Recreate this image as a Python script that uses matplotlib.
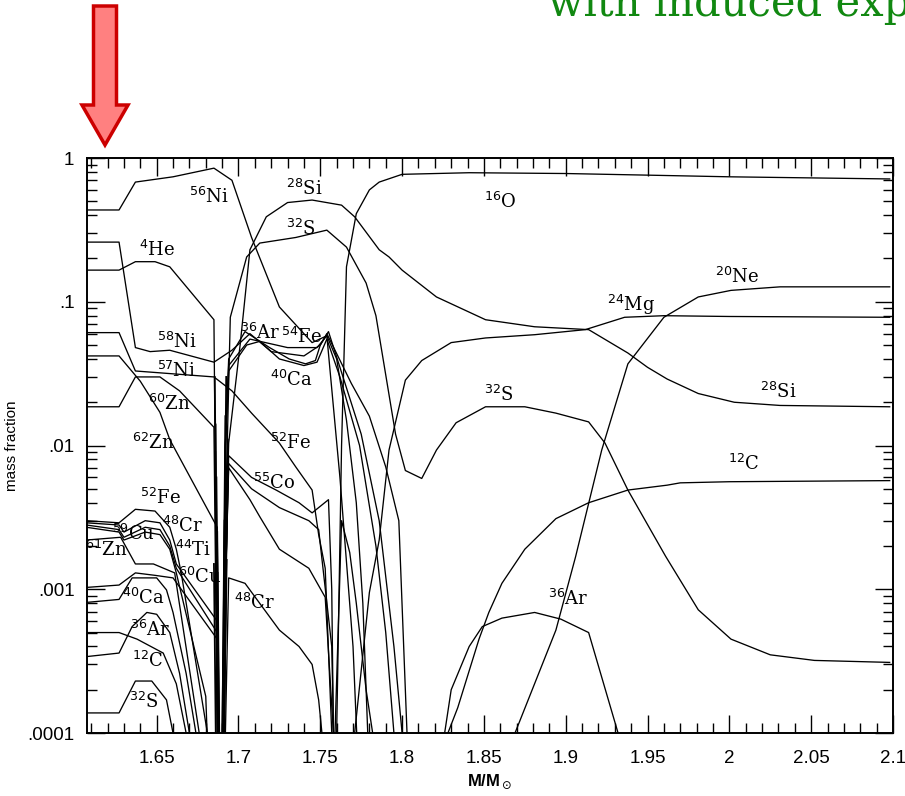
import matplotlib
matplotlib.use("Agg")
import matplotlib.pyplot as plt
from matplotlib.patches import FancyArrow
from matplotlib.ticker import MultipleLocator, LogLocator, NullFormatter

# ---- abundance curves: mass coordinate / mass fraction ----
ni56_x = [1.607, 1.627, 1.637, 1.660, 1.685, 1.696, 1.708, 1.725, 1.745, 1.754, 1.762, 1.770, 1.776]
ni56_y = [0.435, 0.435, 0.68, 0.74, 0.85, 0.70, 0.28, 0.092, 0.052, 0.058, 0.006, 0.0004, 1e-5]

he4_x = [1.607, 1.627, 1.637, 1.649, 1.658, 1.685, 1.688]
he4_y = [0.166, 0.166, 0.19, 0.19, 0.175, 0.075, 1e-5]

ni58_x = [1.607, 1.627, 1.637, 1.646, 1.658, 1.685, 1.696, 1.707, 1.720, 1.740, 1.750, 1.755, 1.762, 1.775, 1.786, 1.795, 1.800, 1.802]
ni58_y = [0.26, 0.26, 0.048, 0.045, 0.046, 0.038, 0.046, 0.060, 0.045, 0.042, 0.050, 0.062, 0.035, 0.012, 0.003, 0.0004, 1e-4, 1e-5]

ni57_x = [1.607, 1.627, 1.637, 1.685, 1.696, 1.708, 1.725, 1.735, 1.745, 1.749, 1.753, 1.757, 1.759]
ni57_y = [0.061, 0.061, 0.033, 0.030, 0.024, 0.0168, 0.0104, 0.0071, 0.0049, 0.0024, 0.0014, 1e-4, 1e-5]

zn62_x = [1.607, 1.627, 1.640, 1.652, 1.658, 1.687, 1.689]
zn62_y = [0.042, 0.042, 0.028, 0.017, 0.011, 0.0027, 1e-5]

zn60_x = [1.607, 1.627, 1.637, 1.652, 1.664, 1.685, 1.688]
zn60_y = [0.0186, 0.0186, 0.030, 0.030, 0.024, 0.0134, 1e-5]

fe52l_x = [1.607, 1.627, 1.637, 1.649, 1.658, 1.662, 1.665, 1.681, 1.684]
fe52l_y = [0.0030, 0.0029, 0.0036, 0.0035, 0.0027, 0.0019, 0.0013, 1e-4, 1e-5]

cr48l_x = [1.607, 1.627, 1.630, 1.643, 1.652, 1.658, 1.662, 1.687, 1.689]
cr48l_y = [0.0029, 0.0028, 0.0025, 0.0030, 0.0029, 0.0022, 0.0015, 0.00060, 1e-5]

cu59_x = [1.607, 1.627, 1.630, 1.643, 1.652, 1.658, 1.662, 1.687, 1.689]
cu59_y = [0.0028, 0.0026, 0.0023, 0.0027, 0.0026, 0.0020, 0.0014, 0.00050, 1e-5]

ti44_x = [1.607, 1.627, 1.630, 1.643, 1.652, 1.658, 1.662, 1.680, 1.684]
ti44_y = [0.0027, 0.0025, 0.0022, 0.0025, 0.0024, 0.0019, 0.0013, 0.00018, 1e-5]

zn61_x = [1.607, 1.628, 1.637, 1.648, 1.661, 1.676, 1.680]
zn61_y = [0.0022, 0.0023, 0.0015, 0.0015, 0.0013, 1e-4, 1e-5]

cu60_x = [1.607, 1.627, 1.637, 1.649, 1.660, 1.687, 1.689]
cu60_y = [0.00103, 0.00107, 0.0013, 0.00125, 0.0012, 0.00045, 1e-5]

ca40l_x = [1.607, 1.627, 1.635, 1.650, 1.656, 1.660, 1.668, 1.674, 1.678]
ca40l_y = [8.1e-4, 8.5e-4, 0.0012, 0.0012, 9.9e-4, 6.9e-4, 2.6e-4, 1e-4, 1e-5]

ar36l_x = [1.607, 1.627, 1.638, 1.654, 1.662, 1.668, 1.671]
ar36l_y = [5.0e-4, 5.0e-4, 4.5e-4, 3.6e-4, 2.2e-4, 1e-4, 1e-5]

c12l_x = [1.607, 1.627, 1.635, 1.644, 1.650, 1.658, 1.664, 1.670, 1.673]
c12l_y = [3.4e-4, 3.6e-4, 5.5e-4, 6.9e-4, 6.7e-4, 5.0e-4, 2.6e-4, 1e-4, 1e-5]

s32l_x = [1.607, 1.627, 1.637, 1.647, 1.656, 1.660, 1.662]
s32l_y = [1.38e-4, 1.38e-4, 2.3e-4, 2.3e-4, 1.7e-4, 1e-4, 1e-5]

si28_x = [1.690, 1.692, 1.694, 1.701, 1.707, 1.717, 1.730, 1.745, 1.763, 1.771, 1.786, 1.792, 1.800,
          1.821, 1.851, 1.881, 1.914, 1.938, 1.950, 1.962, 1.981, 2.003, 2.031, 2.098]
si28_y = [1e-5, 0.0015, 0.0104, 0.05, 0.23, 0.39, 0.49, 0.51, 0.47, 0.39, 0.23, 0.205, 0.166,
          0.108, 0.075, 0.067, 0.064, 0.044, 0.035, 0.029, 0.023, 0.020, 0.019, 0.0186]

s32_x = [1.689, 1.692, 1.695, 1.705, 1.713, 1.735, 1.754, 1.766, 1.778, 1.784, 1.796, 1.802, 1.812,
         1.821, 1.833, 1.851, 1.875, 1.894, 1.914, 1.924, 1.938, 1.961, 1.981, 2.001, 2.025, 2.052, 2.098]
s32_y = [1e-5, 0.003, 0.078, 0.205, 0.256, 0.28, 0.315, 0.24, 0.135, 0.08, 0.012, 0.0067, 0.0059,
         0.0093, 0.0144, 0.0186, 0.0186, 0.0168, 0.0146, 0.0104, 0.0049, 0.0017, 0.00072, 0.00045,
         0.00035, 0.00032, 0.00031]

o16_x = [1.757, 1.760, 1.763, 1.766, 1.772, 1.780, 1.786, 1.800, 1.841, 1.900, 1.950, 2.000, 2.098]
o16_y = [1e-5, 1e-4, 0.010, 0.175, 0.41, 0.60, 0.68, 0.77, 0.79, 0.78, 0.76, 0.74, 0.715]

mg24_x = [1.768, 1.771, 1.780, 1.786, 1.792, 1.802, 1.812, 1.830, 1.851, 1.881, 1.912, 1.936, 1.960, 2.000, 2.098]
mg24_y = [1e-5, 1e-4, 9.5e-4, 0.0022, 0.0093, 0.0285, 0.039, 0.052, 0.056, 0.059, 0.064, 0.078, 0.080, 0.079, 0.078]

ne20_x = [1.867, 1.869, 1.894, 1.906, 1.922, 1.938, 1.960, 1.981, 2.001, 2.031, 2.098]
ne20_y = [1e-5, 1e-4, 5.2e-4, 0.00168, 0.0093, 0.037, 0.078, 0.108, 0.12, 0.127, 0.127]

c12_x = [1.826, 1.828, 1.834, 1.847, 1.853, 1.861, 1.875, 1.894, 1.914, 1.938, 1.962, 1.970, 2.000, 2.098]
c12_y = [1e-5, 1e-4, 1.5e-4, 4.5e-4, 6.9e-4, 0.0011, 0.0019, 0.0031, 0.0040, 0.0049, 0.0053, 0.0055, 0.0056, 0.0057]

ar36_x = [1.823, 1.826, 1.830, 1.841, 1.849, 1.861, 1.881, 1.897, 1.914, 1.932, 1.935]
ar36_y = [1e-5, 1e-4, 2.0e-4, 4.0e-4, 5.5e-4, 6.3e-4, 6.9e-4, 6.2e-4, 5.0e-4, 1e-4, 1e-5]

ar36m_x = [1.689, 1.692, 1.694, 1.704, 1.719, 1.731, 1.741, 1.747, 1.750, 1.754, 1.759, 1.769, 1.780, 1.790, 1.798, 1.803, 1.806]
ar36m_y = [1e-5, 0.01, 0.040, 0.062, 0.048, 0.040, 0.037, 0.039, 0.050, 0.060, 0.046, 0.027, 0.016, 0.0071, 0.003, 1e-4, 1e-5]

fe54_x = [1.690, 1.692, 1.694, 1.707, 1.730, 1.748, 1.754, 1.760, 1.766, 1.772, 1.776, 1.779, 1.781]
fe54_y = [1e-5, 0.01, 0.036, 0.055, 0.048, 0.048, 0.058, 0.040, 0.015, 0.004, 0.0008, 1e-4, 1e-5]

ca40m_x = [1.690, 1.692, 1.694, 1.705, 1.713, 1.725, 1.740, 1.748, 1.754, 1.762, 1.774, 1.784, 1.790, 1.795, 1.797]
ca40m_y = [1e-5, 0.01, 0.033, 0.050, 0.053, 0.040, 0.036, 0.038, 0.055, 0.030, 0.010, 0.002, 0.0005, 1e-4, 1e-5]

co55_x = [1.689, 1.692, 1.694, 1.708, 1.723, 1.737, 1.745, 1.755, 1.757, 1.759]
co55_y = [1e-5, 0.001, 0.0085, 0.006, 0.0049, 0.0040, 0.0034, 0.0042, 0.001, 1e-5]

ti44m_x = [1.689, 1.692, 1.694, 1.708, 1.725, 1.743, 1.749, 1.757, 1.760]
ti44m_y = [1e-5, 0.001, 0.0075, 0.0050, 0.0037, 0.0030, 0.0026, 0.0004, 1e-5]

ni57m_x = [1.689, 1.692, 1.694, 1.707, 1.713, 1.725, 1.743, 1.753, 1.758, 1.760]
ni57m_y = [1e-5, 0.001, 0.0070, 0.0042, 0.0032, 0.0019, 0.0014, 0.00088, 1e-4, 1e-5]

cr48m_x = [1.690, 1.692, 1.694, 1.704, 1.725, 1.737, 1.745, 1.749, 1.751, 1.753]
cr48m_y = [1e-5, 1e-4, 0.0012, 0.0011, 0.00052, 0.00040, 0.00030, 0.00017, 1e-4, 1e-5]

hump_x = [1.757, 1.759, 1.763, 1.768, 1.772, 1.778, 1.782, 1.784]
hump_y = [1e-5, 1e-4, 0.003, 0.0018, 0.0008, 0.0002, 1e-4, 1e-5]

# minor species that only show up as the dark notch at the shell edge near 1.69
notch_left_x = [1.6855, 1.6860, 1.6865, 1.6870, 1.6858, 1.6862, 1.6850, 1.6868]
notch_left_y = [0.030, 0.014, 0.006, 0.0025, 0.009, 0.0035, 0.0015, 0.0008]
notch_low_x = [1.6890, 1.6885, 1.6895, 1.6900, 1.6888, 1.6893, 1.6880, 1.6903]
notch_right_x = [1.6925, 1.6920, 1.6930, 1.6915, 1.6935, 1.6918, 1.6928, 1.6912]
notch_right_y = [0.030, 0.016, 0.007, 0.0030, 0.011, 0.0045, 0.0016, 0.0009]

curves = [
    (ni56_x, ni56_y), (he4_x, he4_y), (ni58_x, ni58_y), (ni57_x, ni57_y),
    (zn62_x, zn62_y), (zn60_x, zn60_y), (fe52l_x, fe52l_y), (cr48l_x, cr48l_y),
    (cu59_x, cu59_y), (ti44_x, ti44_y), (zn61_x, zn61_y), (cu60_x, cu60_y),
    (ca40l_x, ca40l_y), (ar36l_x, ar36l_y), (c12l_x, c12l_y), (s32l_x, s32l_y),
    (si28_x, si28_y), (s32_x, s32_y), (o16_x, o16_y), (mg24_x, mg24_y),
    (ne20_x, ne20_y), (c12_x, c12_y), (ar36_x, ar36_y), (ar36m_x, ar36m_y),
    (fe54_x, fe54_y), (ca40m_x, ca40m_y), (co55_x, co55_y), (ti44m_x, ti44m_y),
    (ni57m_x, ni57m_y), (cr48m_x, cr48m_y), (hump_x, hump_y),
]

# labels: (mass number, element, x, y) placed at left/baseline
labels = [
    ("56", "Ni", 1.670, 0.49), ("28", "Si", 1.729, 0.55), ("32", "S", 1.729, 0.29),
    ("4", "He", 1.639, 0.207), ("58", "Ni", 1.650, 0.048), ("57", "Ni", 1.650, 0.030),
    ("60", "Zn", 1.645, 0.0178), ("62", "Zn", 1.635, 0.0095),
    ("36", "Ar", 1.701, 0.055), ("54", "Fe", 1.726, 0.052), ("40", "Ca", 1.719, 0.026),
    ("52", "Fe", 1.719, 0.0095), ("55", "Co", 1.709, 0.0050), ("48", "Cr", 1.697, 0.00073),
    ("16", "O", 1.850, 0.45), ("24", "Mg", 1.925, 0.086), ("20", "Ne", 1.991, 0.134),
    ("28", "Si", 2.019, 0.0214), ("32", "S", 1.850, 0.0205), ("12", "C", 1.999, 0.0068),
    ("36", "Ar", 1.889, 0.00078),
    ("52", "Fe", 1.640, 0.0039), ("48", "Cr", 1.653, 0.0025), ("59", "Cu", 1.623, 0.0022),
    ("61", "Zn", 1.606, 0.0017), ("44", "Ti", 1.661, 0.0017), ("60", "Cu", 1.663, 0.00111),
    ("40", "Ca", 1.629, 0.00079), ("36", "Ar", 1.634, 0.00047), ("12", "C", 1.635, 0.00029),
    ("32", "S", 1.633, 0.00015),
]

ytick_vals = [1e-4, 1e-3, 1e-2, 1e-1, 1]
ytick_text = [".0001", ".001", ".01", ".1", "1"]
xtick_vals = [1.65, 1.7, 1.75, 1.8, 1.85, 1.9, 1.95, 2.0, 2.05, 2.1]
xtick_text = ["1.65", "1.7", "1.75", "1.8", "1.85", "1.9", "1.95", "2", "2.05", "2.1"]

fig = plt.figure(figsize=(9.05, 7.96), dpi=100)
ax = fig.add_axes([0.0961, 0.0791, 0.8906, 0.7224])

for cx, cy in curves:
    ax.plot(cx, cy, color="black", lw=0.95)

for xl, yl, xb, xr, yr in zip(notch_left_x, notch_left_y, notch_low_x, notch_right_x, notch_right_y):
    ax.plot([xl, xb, xr], [yl, 1e-6, yr], color="black", lw=1.3)

ax.set_yscale("log")
ax.set_xlim(1.6074, 2.1)
ax.set_ylim(1e-4, 1)

ax.set_yticks(ytick_vals, ytick_text)
ax.yaxis.set_minor_locator(LogLocator(base=10, subs=range(2, 10)))
ax.yaxis.set_minor_formatter(NullFormatter())
ax.set_xticks(xtick_vals, xtick_text)
ax.xaxis.set_minor_locator(MultipleLocator(0.01))

ax.tick_params(which="both", direction="in", top=True, right=True, width=1.0,
               labelsize=13.5, colors="black")
ax.tick_params(which="major", length=13)
ax.tick_params(which="minor", length=7)
ax.tick_params(axis="x", pad=12)
ax.tick_params(axis="y", pad=9)
for lab in ax.get_xticklabels() + ax.get_yticklabels():
    lab.set_family("Liberation Sans")
for sp in ax.spines.values():
    sp.set_linewidth(1.4)

ax.set_xlabel(r"M/M$_\odot$", fontsize=12, family="Liberation Sans", fontweight="bold", labelpad=4)
ax.set_ylabel("mass fraction", fontsize=11, family="Liberation Sans", labelpad=6)

for mass, el, lx, ly in labels:
    ax.text(lx, ly, r"$^{%s}$%s" % (mass, el), fontsize=13, family="DejaVu Serif",
            ha="left", va="baseline", clip_on=False)

# red arrow pointing at the inner edge
arrow = FancyArrow(105 / 905, 1 - 6 / 796, 0, -(139 / 796), width=23 / 905,
                   head_width=46 / 905, head_length=40 / 796, length_includes_head=True,
                   transform=fig.transFigure, facecolor="#ff8080", edgecolor="#cc0000", lw=2.5)
fig.patches.append(arrow)

# slide title, cut off by the top of the picture as in the original
fig.text(548 / 905, 1 - 16 / 796, "with induced explosion", fontsize=30,
         family="DejaVu Serif", color="#118811", ha="left", va="baseline")

fig.savefig("out.png", dpi=100)
